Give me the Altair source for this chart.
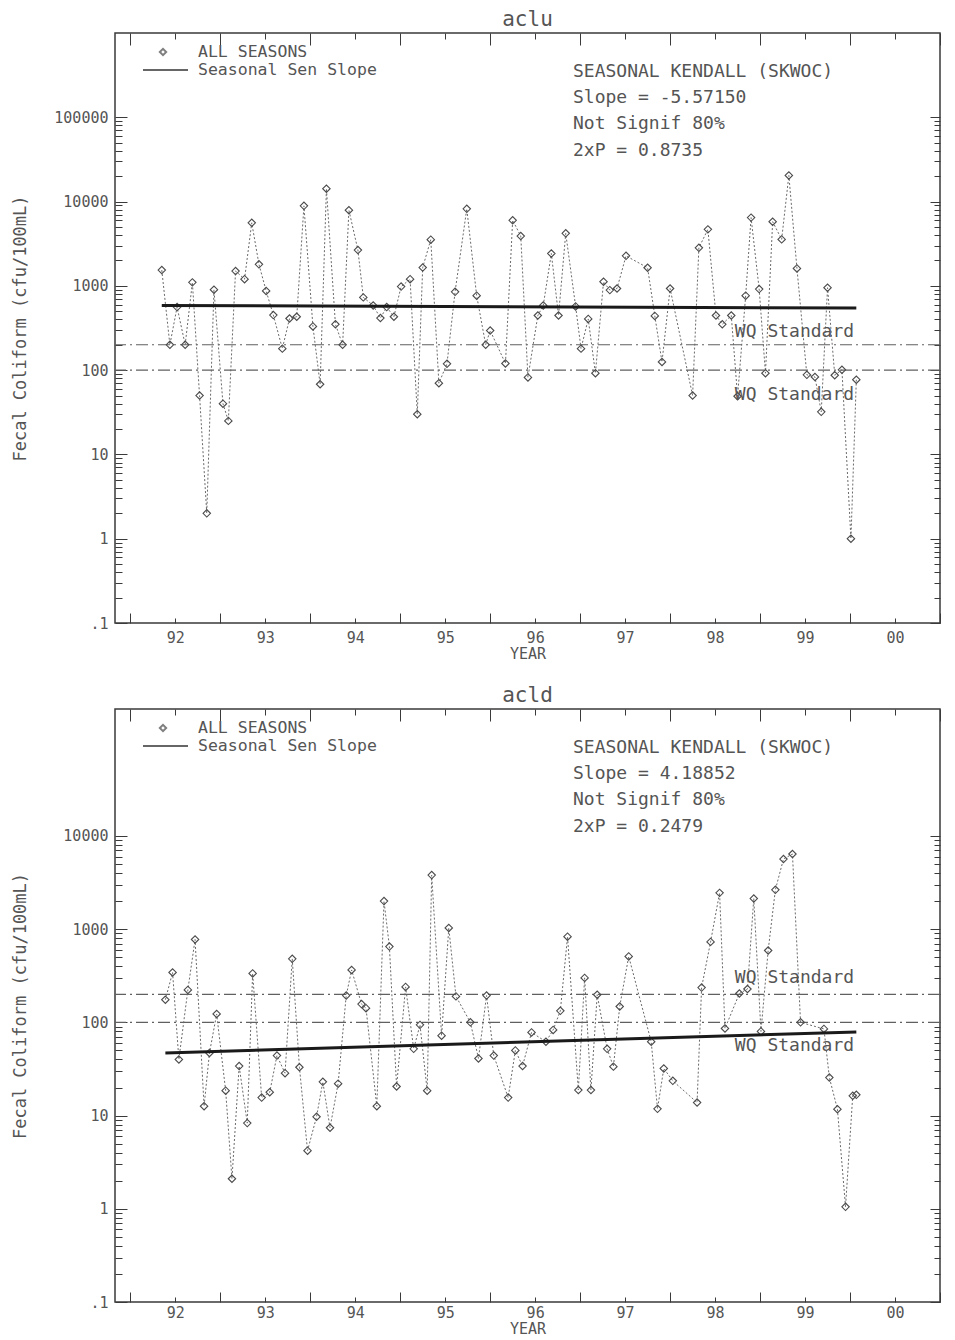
import altair as alt
import pandas as pd

FONT = "DejaVu Sans Mono"
INK = "#555555"
FRAME = "#3a3a3a"

# ---------------- data ----------------
TOP_YEARS = [1991.85, 1991.94,
             1992.02, 1992.11, 1992.19, 1992.27, 1992.35, 1992.43, 1992.53, 1992.59, 1992.67, 1992.77, 1992.85, 1992.93,
             1993.01, 1993.09, 1993.19, 1993.27, 1993.35, 1993.43, 1993.53, 1993.61, 1993.68, 1993.78, 1993.86, 1993.93,
             1994.03, 1994.09, 1994.20, 1994.28, 1994.35, 1994.43, 1994.51, 1994.61, 1994.69, 1994.75, 1994.84, 1994.93,
             1995.02, 1995.11, 1995.24, 1995.35, 1995.45, 1995.50, 1995.67, 1995.75, 1995.84, 1995.92,
             1996.03, 1996.09, 1996.18, 1996.26, 1996.34, 1996.45, 1996.51, 1996.59, 1996.67, 1996.76, 1996.83, 1996.91,
             1997.01, 1997.25, 1997.33, 1997.41, 1997.50, 1997.75, 1997.82, 1997.92,
             1998.01, 1998.08, 1998.18, 1998.25, 1998.34, 1998.40, 1998.49, 1998.56, 1998.64, 1998.74, 1998.82, 1998.91,
             1999.02, 1999.11, 1999.18, 1999.25, 1999.33, 1999.41, 1999.51, 1999.57]
TOP_VALUES = [1540, 200,
              560, 200, 1100, 50, 2, 900, 40, 25, 1500, 1200, 5600, 1800,
              870, 450, 180, 410, 430, 8900, 330, 68, 14200, 350, 200, 7900,
              2660, 730, 585, 415, 560, 430, 980, 1200, 30, 1650, 3530, 70,
              119, 850, 8200, 765, 200, 295, 120, 6000, 3900, 82,
              445, 585, 2420, 445, 4200, 570, 180, 405, 92, 1120, 890, 930,
              2270, 1640, 440, 125, 930, 50, 2830, 4680,
              445, 350, 445, 49, 765, 6450, 915, 92, 5770, 3560, 20400, 1610,
              88, 83, 32, 950, 87, 101, 1, 77]

BOT_YEARS = [1991.89, 1991.97,
             1992.04, 1992.14, 1992.22, 1992.32, 1992.38, 1992.46, 1992.56, 1992.63, 1992.71, 1992.80, 1992.86, 1992.96,
             1993.05, 1993.13, 1993.22, 1993.30, 1993.38, 1993.47, 1993.57, 1993.64, 1993.72, 1993.81, 1993.90, 1993.96,
             1994.07, 1994.12, 1994.24, 1994.32, 1994.38, 1994.46, 1994.56, 1994.65, 1994.72, 1994.80, 1994.85, 1994.96,
             1995.04, 1995.12, 1995.28, 1995.37, 1995.46, 1995.54, 1995.70, 1995.78, 1995.86, 1995.96,
             1996.12, 1996.20, 1996.28, 1996.36, 1996.48, 1996.55, 1996.62, 1996.69, 1996.80, 1996.87, 1996.94,
             1997.04, 1997.29, 1997.36, 1997.43, 1997.53, 1997.80, 1997.85, 1997.95,
             1998.05, 1998.11, 1998.27, 1998.36, 1998.43, 1998.51, 1998.59, 1998.67, 1998.76, 1998.86, 1998.95,
             1999.21, 1999.27, 1999.36, 1999.45, 1999.53, 1999.57]
BOT_VALUES = [175, 343,
              40, 223, 775, 12.6, 47, 123, 18.5, 2.1, 34, 8.3, 335, 15.6,
              17.8, 44, 28.5, 480, 33, 4.2, 9.7, 23, 7.4, 22, 194, 365,
              157, 142, 12.6, 2000, 650, 20.5, 240, 52, 94, 18.5, 3800, 72,
              1030, 190, 100, 41, 194, 44, 15.6, 50, 34, 78,
              62, 83, 133, 830, 18.8, 300, 18.8, 198, 52, 33.5, 148,
              510, 62, 11.8, 32, 23.6, 13.8, 236, 730,
              2450, 86, 204, 228, 2130, 80, 590, 2640, 5650, 6400, 100,
              85, 25.6, 11.7, 1.05, 16.3, 16.7]

TOP_SEN_YEARS = [1991.85, 1999.57]
TOP_SEN_VALUES = [585, 545]
BOT_SEN_YEARS = [1991.89, 1999.57]
BOT_SEN_VALUES = [47, 79]

WQ_LEVELS = [200, 100]
WQ_LABEL = "WQ Standard"
WQ_LABEL_YEAR = 1998.22

YEAR_TICKS = [1992, 1993, 1994, 1995, 1996, 1997, 1998, 1999, 2000]
YEAR_TICK_LABELS = ["92", "93", "94", "95", "96", "97", "98", "99", "00"]
YEAR_BOUNDS = [1991.5, 1992.5, 1993.5, 1994.5, 1995.5, 1996.5, 1997.5, 1998.5, 1999.5, 2000.5]
X_DOMAIN = [1991.33, 2000.5]

Y_TICKS = [0.1, 1, 10, 100, 1000, 10000, 100000]
Y_TICK_LABELS = [".1", "1", "10", "100", "1000", "10000", "100000"]
TOP_Y_DOMAIN = [0.1, 1000000]
BOT_Y_DOMAIN = [0.1, 230000]
TOP_Y_TOP_TICK = 100000
BOT_Y_TOP_TICK = 10000

TOP_NAME = "aclu"
BOT_NAME = "acld"
TOP_STATS = ["SEASONAL KENDALL (SKWOC)", "Slope = -5.57150", "Not Signif 80%", "2xP = 0.8735"]
BOT_STATS = ["SEASONAL KENDALL (SKWOC)", "Slope = 4.18852", "Not Signif 80%", "2xP = 0.2479"]
LEGEND_POINTS = "ALL SEASONS"
LEGEND_LINE = "Seasonal Sen Slope"
Y_TITLE = "Fecal Coliform (cfu/100mL)"
X_TITLE = "YEAR"

W = 825
TXT = 18
LEG_TXT = 16.5


def label_expr(vals, texts):
    expr = "''"
    for v, t in reversed(list(zip(vals, texts))):
        expr = f"datum.value == {v} ? '{t}' : ({expr})"
    return expr


def tick_axis(orient, vals, size):
    return alt.Axis(orient=orient, values=vals, labels=False, domain=False, grid=False,
                    ticks=True, tickSize=size, offset=-size, tickColor=FRAME, tickWidth=1,
                    title=None)


def panel(name, years, values, sen_years, sen_values, ydom, top_tick, stats, height,
          up_dy, low_dy, xlab_pad):
    xs = alt.Scale(domain=X_DOMAIN, nice=False, zero=False)
    ys = alt.Scale(type="log", domain=ydom, nice=False)
    decades = [v for v in Y_TICKS if ydom[0] <= v <= top_tick]
    minors = [m * d for d in Y_TICKS for m in range(2, 10) if ydom[0] <= m * d <= top_tick]

    x_lab = alt.Axis(orient="bottom", values=YEAR_TICKS,
                     labelExpr=label_expr(YEAR_TICKS, YEAR_TICK_LABELS),
                     ticks=False, domain=False, grid=False, title=X_TITLE,
                     labelFont=FONT, labelFontSize=15, labelColor=INK, labelPadding=xlab_pad,
                     titleFont=FONT, titleFontSize=15, titleColor=INK, titleFontWeight="normal",
                     titlePadding=1)
    y_lab = alt.Axis(orient="left", values=decades,
                     labelExpr=label_expr(Y_TICKS, Y_TICK_LABELS),
                     ticks=False, domain=False, grid=False, title=Y_TITLE,
                     labelFont=FONT, labelFontSize=15, labelColor=INK, labelPadding=7,
                     titleFont=FONT, titleFontSize=17, titleColor=INK, titleFontWeight="normal",
                     titleX=-95, titleY=height / 2, titleAngle=-90, titleAlign="center",
                     titleBaseline="middle")

    df = pd.DataFrame({"year": years, "value": values})
    sen_df = pd.DataFrame({"year": sen_years, "value": sen_values})
    wq_df = pd.DataFrame({"value": WQ_LEVELS})
    up_df = pd.DataFrame({"year": [WQ_LABEL_YEAR], "value": [WQ_LEVELS[0]], "t": [WQ_LABEL]})
    low_df = pd.DataFrame({"year": [WQ_LABEL_YEAR], "value": [WQ_LEVELS[1]], "t": [WQ_LABEL]})

    wq = alt.Chart(wq_df).mark_rule(color="#606060", strokeDash=[12, 4, 2, 4], strokeWidth=1.2).encode(
        y=alt.Y("value:Q", scale=ys, axis=y_lab))
    line = alt.Chart(df).mark_line(color="#6a6a6a", strokeDash=[2, 2], strokeWidth=1).encode(
        x=alt.X("year:Q", scale=xs, axis=x_lab),
        y=alt.Y("value:Q", scale=ys, axis=tick_axis("left", decades, 12)))
    pts = alt.Chart(df).mark_point(shape="diamond", filled=False, size=55, color="#4a4a4a",
                                   strokeWidth=1.1, opacity=1).encode(
        x=alt.X("year:Q", scale=xs, axis=tick_axis("bottom", YEAR_BOUNDS, 10)),
        y=alt.Y("value:Q", scale=ys, axis=tick_axis("left", minors, 7)))
    sen = alt.Chart(sen_df).mark_line(color="#1a1a1a", strokeWidth=3).encode(
        x=alt.X("year:Q", scale=xs, axis=tick_axis("bottom", YEAR_TICKS, 5)),
        y=alt.Y("value:Q", scale=ys, axis=tick_axis("right", decades, 10)))
    up = alt.Chart(up_df).mark_text(align="left", baseline="middle", dy=up_dy, font=FONT,
                                    fontSize=TXT, color=INK).encode(
        x=alt.X("year:Q", scale=xs, axis=tick_axis("top", YEAR_BOUNDS, 12)),
        y=alt.Y("value:Q", scale=ys, axis=tick_axis("right", minors, 6)),
        text="t:N")
    low = alt.Chart(low_df).mark_text(align="left", baseline="middle", dy=low_dy, font=FONT,
                                      fontSize=TXT, color=INK).encode(
        x=alt.X("year:Q", scale=xs, axis=tick_axis("top", YEAR_TICKS, 6)),
        y=alt.Y("value:Q", scale=ys, axis=None),
        text="t:N")

    one = pd.DataFrame({"t": [LEGEND_POINTS], "s": [LEGEND_LINE], "k": ["\n".join(stats)]})
    leg_sym = alt.Chart(one).mark_point(shape="diamond", filled=False, size=40, color="#4a4a4a").encode(
        x=alt.value(48), y=alt.value(19))
    leg_t1 = alt.Chart(one).mark_text(align="left", baseline="middle", font=FONT, fontSize=LEG_TXT,
                                      color=INK).encode(x=alt.value(83), y=alt.value(19), text="t:N")
    leg_line = alt.Chart(one).mark_rule(color="#333333", strokeWidth=1.5).encode(
        x=alt.value(28), x2=alt.value(73), y=alt.value(37))
    leg_t2 = alt.Chart(one).mark_text(align="left", baseline="middle", font=FONT, fontSize=LEG_TXT,
                                      color=INK).encode(x=alt.value(83), y=alt.value(37), text="s:N")
    stat_t = alt.Chart(one).mark_text(align="left", baseline="alphabetic", font=FONT, fontSize=TXT,
                                      color=INK, lineBreak="\n", lineHeight=26.4).encode(
        x=alt.value(458), y=alt.value(43.5), text="k:N")

    return alt.layer(wq, line, pts, sen, up, low, leg_sym, leg_t1, leg_line, leg_t2, stat_t).resolve_axis(
        x="independent", y="independent").properties(
        width=W, height=height,
        title=alt.TitleParams(text=name, font=FONT, fontSize=21, fontWeight="normal", color=INK,
                              offset=3, frame="group", anchor="middle"))


top = panel(TOP_NAME, TOP_YEARS, TOP_VALUES, TOP_SEN_YEARS, TOP_SEN_VALUES, TOP_Y_DOMAIN,
            TOP_Y_TOP_TICK, TOP_STATS, 590, -13, 25, 7)
bot = panel(BOT_NAME, BOT_YEARS, BOT_VALUES, BOT_SEN_YEARS, BOT_SEN_VALUES, BOT_Y_DOMAIN,
            BOT_Y_TOP_TICK, BOT_STATS, 593, -16, 24, 3)

chart = alt.vconcat(top, bot, spacing=21).resolve_scale(y="independent").properties(
    padding={"left": 10, "top": 7, "right": 10, "bottom": 2},
    background="white",
).configure_view(stroke=FRAME, strokeWidth=1.5)

chart.save("out.html", embed_options={"renderer": "svg", "actions": False})
